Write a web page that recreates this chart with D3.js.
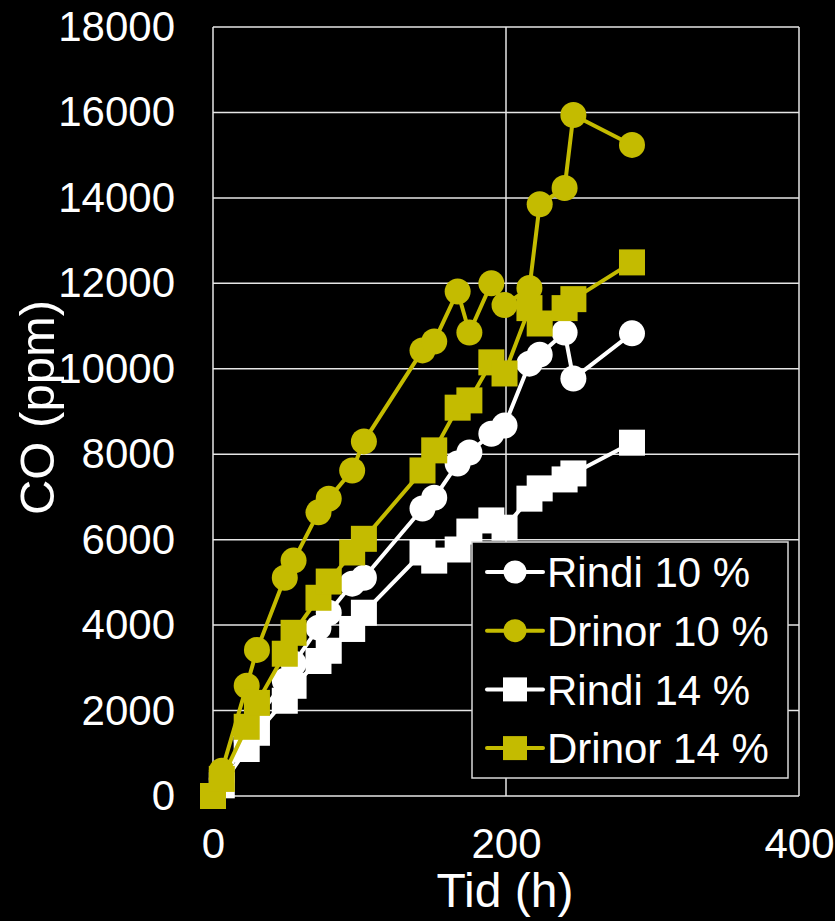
<!DOCTYPE html>
<html>
<head>
<meta charset="utf-8">
<script src="https://cdn.jsdelivr.net/npm/d3@7"></script>
<style>
  body { margin: 0; background: #000; }
  svg { display: block; font-family: "Liberation Sans", Arial, sans-serif; }
</style>
</head>
<body>
<div id="chart"></div>
<script>
// time in hours
var tid = [0, 6, 23, 30, 49, 55, 72, 79, 95, 103, 143, 151, 167, 175, 190, 199, 216, 223, 240, 246, 286];

var rindi10 = [0, 400, 1300, 1800, 2700, 3100, 3940, 4290, 4970, 5110, 6730, 6980, 7780, 8040, 8480, 8670, 10120, 10330, 10850, 9770, 10830];
var drinor10 = [0, 590, 2580, 3420, 5110, 5510, 6640, 6960, 7620, 8300, 10430, 10640, 11810, 10850, 12000, 11490, 11890, 13850, 14230, 15940, 15240];
var rindi14 = [0, 250, 1100, 1480, 2230, 2580, 3160, 3400, 3910, 4290, 5700, 5510, 5770, 6190, 6450, 6280, 6960, 7200, 7410, 7550, 8270];
var drinor14 = [0, 400, 1620, 2180, 3330, 3820, 4640, 5020, 5700, 6020, 7620, 8090, 9090, 9260, 10150, 9890, 11420, 11060, 11420, 11630, 12490];

var seriesNames = ["Rindi 10 %", "Drinor 10 %", "Rindi 14 %", "Drinor 14 %"];
var seriesValues = [rindi10, drinor10, rindi14, drinor14];
var seriesShape = ["circle", "circle", "square", "square"];

var xTicks = [0, 200, 400];
var yTicks = [0, 2000, 4000, 6000, 8000, 10000, 12000, 14000, 16000, 18000];

var width = 835,
    height = 921,
    olive = "#c4bb00",
    margin = { top: 27, right: 36, bottom: 125, left: 213 };

var color = d3.scaleOrdinal(seriesNames, ["#ffffff", olive, "#ffffff", olive]);

var x = d3.scaleLinear().domain([0, 400]).range([margin.left, width - margin.right]);
var y = d3.scaleLinear().domain([0, 18000]).range([height - margin.bottom, margin.top]);

var svg = d3.select("#chart").append("svg")
    .attr("width", width)
    .attr("height", height);

svg.append("rect")
    .attr("width", width)
    .attr("height", height)
    .attr("fill", "#000");

// grid
svg.append("g")
    .selectAll("line")
    .data(yTicks)
    .join("line")
    .attr("x1", x(0))
    .attr("x2", x(400))
    .attr("y1", d => y(d))
    .attr("y2", d => y(d))
    .attr("stroke", "#e6e6e6")
    .attr("stroke-width", 1.5);

svg.append("g")
    .selectAll("line")
    .data(xTicks)
    .join("line")
    .attr("x1", d => x(d))
    .attr("x2", d => x(d))
    .attr("y1", y(0))
    .attr("y2", y(18000))
    .attr("stroke", "#e6e6e6")
    .attr("stroke-width", 1.5);

// axes (labels only)
var yAxis = g => g
    .attr("transform", `translate(${x(0) - 38},0)`)
    .call(d3.axisLeft(y).tickValues(yTicks).tickSize(0).tickPadding(0).tickFormat(d3.format("d")))
    .call(g => g.select(".domain").remove())
    .call(g => g.selectAll("text")
        .attr("fill", "#fff")
        .style("font-size", "42px")
        .style("font-family", "Liberation Sans, Arial, sans-serif"));

var xAxis = g => g
    .attr("transform", `translate(0,${y(0)})`)
    .call(d3.axisBottom(x).tickValues(xTicks).tickSize(0).tickPadding(32).tickFormat(d3.format("d")))
    .call(g => g.select(".domain").remove())
    .call(g => g.selectAll("text")
        .attr("fill", "#fff")
        .style("font-size", "42px")
        .style("font-family", "Liberation Sans, Arial, sans-serif"));

svg.append("g").call(yAxis);
svg.append("g").call(xAxis);

svg.append("text")
    .attr("x", (x(0) + x(400)) / 2 - 1)
    .attr("y", 907)
    .attr("text-anchor", "middle")
    .attr("fill", "#fff")
    .style("font-size", "48px")
    .text("Tid (h)");

svg.append("text")
    .attr("transform", `translate(54,${(y(0) + y(18000)) / 2 - 4}) rotate(-90)`)
    .attr("text-anchor", "middle")
    .attr("fill", "#fff")
    .style("font-size", "49px")
    .text("CO (ppm)");

// series
var line = d3.line()
    .x((d, i) => x(tid[i]))
    .y(d => y(d));

function marker(sel, shape, c, r) {
    if (shape === "circle") {
        sel.append("circle").attr("r", r).attr("fill", c);
    } else {
        sel.append("rect")
            .attr("x", -r).attr("y", -r)
            .attr("width", 2 * r).attr("height", 2 * r)
            .attr("fill", c);
    }
}

seriesValues.forEach(function(vals, k) {
    var name = seriesNames[k];
    var g = svg.append("g");
    g.append("path")
        .datum(vals)
        .attr("fill", "none")
        .attr("stroke", color(name))
        .attr("stroke-width", 4)
        .attr("stroke-linejoin", "round")
        .attr("d", line);
    g.selectAll("g")
        .data(vals)
        .join("g")
        .attr("transform", (d, i) => `translate(${x(tid[i])},${y(d)})`)
        .each(function() { marker(d3.select(this), seriesShape[k], color(name), 13); });
});

// legend
var legend = svg.append("g");
legend.append("rect")
    .attr("x", 472)
    .attr("y", 542)
    .attr("width", 316)
    .attr("height", 236)
    .attr("fill", "#000")
    .attr("stroke", "#d9d9d9")
    .attr("stroke-width", 1.5);

var item = legend.selectAll(".item")
    .data(seriesNames)
    .join("g")
    .attr("class", "item")
    .attr("transform", (d, i) => `translate(0,${572 + i * 58.7})`);

item.append("line")
    .attr("x1", 487)
    .attr("x2", 543)
    .attr("stroke", d => color(d))
    .attr("stroke-width", 4)
    .attr("stroke-linecap", "round");

item.each(function(d, i) {
    var m = d3.select(this).append("g").attr("transform", "translate(515,0)");
    marker(m, seriesShape[i], color(d), seriesShape[i] === "circle" ? 11.5 : 12);
});

item.append("text")
    .attr("x", 547)
    .attr("dy", "0.36em")
    .attr("fill", "#fff")
    .style("font-size", "42px")
    .text(d => d);
</script>
</body>
</html>
